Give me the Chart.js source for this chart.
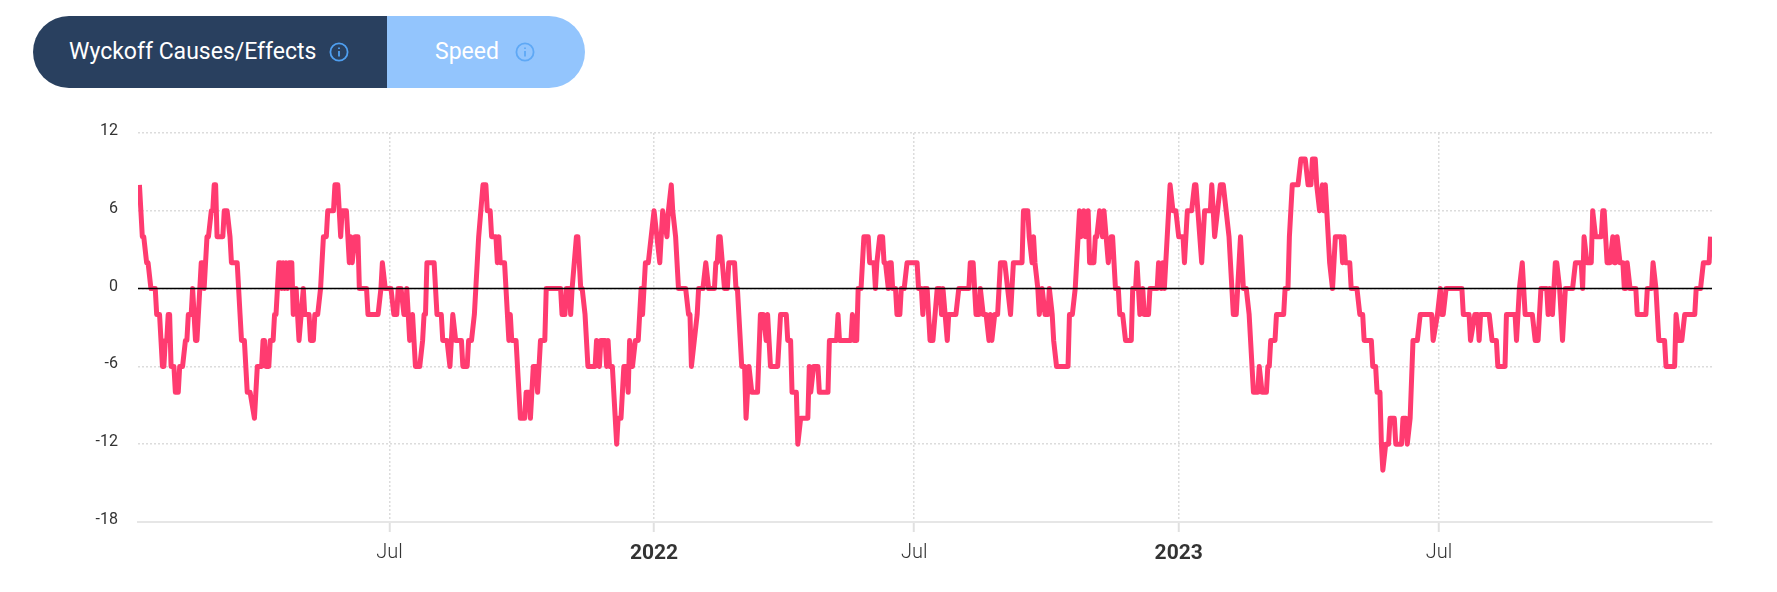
<!DOCTYPE html>
<html>
<head>
<meta charset="utf-8">
<title>Wyckoff Causes/Effects</title>
<script src="https://cdn.jsdelivr.net/npm/chart.js@4"></script>
<style>
  html, body { margin: 0; padding: 0; background: #fff; width: 1777px; height: 592px; overflow: hidden; }
  #myChart { position: absolute; left: 0; top: 0; }
  .tab {
    position: absolute; top: 16px; height: 72px; color: #fff;
    font: 400 23px Roboto, sans-serif; line-height: 72px;
  }
  #tab1 { left: 33px; width: 354px; background: #29405f; border-radius: 36px 0 0 36px; }
  #tab2 { left: 387px; width: 198px; background: #93c5fd; border-radius: 0 36px 36px 0; }
  .tab span { position: absolute; top: 0; white-space: nowrap; }
  .tab svg { position: absolute; top: 26px; }
</style>
</head>
<body>
<div class="tab" id="tab1">
  <span style="left:36px">Wyckoff Causes/Effects</span>
  <svg style="left:296px" width="20" height="20" viewBox="0 0 20 20" fill="none" stroke="#4f9ff0" stroke-width="1.8">
    <circle cx="10" cy="10" r="8.6"/><path d="M10 9v5.5M10 5.4v1.6"/>
  </svg>
</div>
<div class="tab" id="tab2">
  <span style="left:48px">Speed</span>
  <svg style="left:128px" width="20" height="20" viewBox="0 0 20 20" fill="none" stroke="#5ea8f5" stroke-width="1.8">
    <circle cx="10" cy="10" r="8.6"/><path d="M10 9v5.5M10 5.4v1.6"/>
  </svg>
</div>
<canvas id="myChart" width="1777" height="592"></canvas>
<script>
// days since 2021-01-01
const days = [
  7,9,10,12,13,15,18,19,21,23,24,25,26,27,28,29,31,32,34,35,
  37,39,40,41,43,44,46,47,49,50,51,52,54,55,57,58,59,60,61,65,
  66,68,70,71,75,77,78,80,82,84,87,89,92,93,94,95,97,98,100,101,
  102,103,104,105,106,107,108,109,110,111,113,114,116,118,121,122,125,126,128,129,
  131,133,134,135,137,138,142,143,145,147,148,151,153,154,155,157,159,160,165,166,
  173,175,176,178,182,184,186,187,189,191,192,193,195,197,199,202,204,205,206,207,
  212,214,217,218,221,223,225,227,231,232,235,236,238,240,241,243,246,248,249,251,
  252,255,256,257,258,261,263,264,265,266,269,272,275,276,278,279,281,283,284,286,
  289,290,300,301,303,304,306,307,308,311,312,314,315,317,319,324,325,327,328,331,
  332,333,334,336,339,340,342,344,346,347,348,350,352,354,356,357,359,361,363,365,
  367,369,371,374,375,377,378,380,382,387,389,390,391,393,395,396,399,401,403,407,
  408,409,410,411,414,416,417,421,422,423,426,428,429,431,433,437,439,441,443,444,
  446,451,453,457,458,460,461,464,465,467,472,473,474,476,479,480,486,487,492,493,
  494,502,503,504,506,507,509,510,511,514,515,518,519,520,522,524,525,526,528,529,
  530,531,533,534,536,537,539,541,548,549,551,552,553,555,557,559,562,564,565,566,
  569,570,575,577,584,585,587,589,591,592,594,596,598,599,600,602,604,606,609,611,
  613,615,621,622,625,626,628,629,630,632,633,635,637,639,640,642,643,645,653,654,
  656,658,659,661,662,664,665,667,668,671,672,673,675,677,678,681,683,684,686,688,
  689,691,693,697,698,700,701,703,705,706,709,710,715,716,718,719,720,722,724,726,
  728,730,733,734,736,739,741,742,746,748,752,753,755,759,761,765,767,768,770,773,
  775,777,779,782,785,786,788,791,792,793,794,797,798,803,804,806,807,809,813,815,
  818,820,822,823,825,826,828,830,831,832,834,835,837,839,843,844,845,846,849,850,
  854,856,858,859,864,865,867,868,870,871,872,874,876,877,880,881,885,886,888,889,
  891,893,896,898,906,907,910,912,913,914,916,927,928,932,933,936,938,939,940,946,
  948,951,952,957,958,964,965,966,967,969,971,976,978,980,982,986,987,988,990,992,
  993,995,997,999,1004,1006,1010,1011,1012,1014,1017,1018,1020,1024,1025,1026,1028,1030,1032,1033,
  1034,1035,1037,1039,1040,1041,1042,1044,1048,1049,1055,1056,1059,1060,1062,1064,1068,1069,1075,1076,
  1078,1080,1082,1089,1090,1093,1095,1099,1100,
];
const values = [
  8,4,4,2,2,0,0,-2,-2,-6,-6,-4,-4,-2,-2,-6,-6,-8,-8,-6,
  -6,-4,-4,-2,-2,0,-4,-4,0,2,2,0,4,4,6,6,8,8,4,4,
  6,6,4,2,2,-2,-4,-4,-8,-8,-10,-6,-6,-4,-4,-6,-6,-4,-4,-2,
  -2,0,2,2,0,2,0,2,0,2,2,-2,0,-4,0,-2,-2,-4,-4,-2,
  -2,0,2,4,4,6,6,8,8,4,6,6,2,4,2,4,4,0,0,-2,
  -2,0,2,0,0,-2,-2,0,0,-2,-2,0,-4,-2,-6,-6,-4,-2,-2,2,
  2,-2,-2,-4,-4,-6,-2,-4,-4,-6,-6,-4,-4,-2,0,4,8,8,6,6,
  4,4,2,4,2,2,-2,-4,-2,-4,-4,-10,-10,-8,-8,-10,-6,-6,-8,-4,
  -4,0,0,-2,-2,0,0,-2,0,4,4,0,0,-2,-6,-6,-4,-6,-4,-4,
  -6,-4,-6,-6,-12,-10,-10,-6,-6,-8,-4,-6,-4,-4,0,-2,2,2,4,6,
  4,2,6,4,6,8,6,4,0,0,-2,-2,-6,-4,-2,0,0,2,0,0,
  2,2,4,4,0,0,2,2,0,0,-6,-6,-10,-6,-8,-8,-2,-2,-4,-2,
  -6,-6,-2,-2,-4,-4,-8,-8,-12,-10,-10,-6,-8,-6,-6,-8,-8,-4,-4,-2,
  -4,-4,-2,-4,-4,0,0,2,4,4,2,2,0,2,4,4,2,2,0,2,
  2,0,0,-2,-2,0,0,2,2,0,0,-2,0,0,-4,-4,0,0,-2,0,
  -4,-2,-2,0,0,2,2,-2,-2,0,-2,-2,-4,-2,-4,-2,-2,2,2,0,
  -2,2,2,6,6,4,2,4,2,0,-2,0,-2,-2,0,-2,-4,-6,-6,-2,
  -2,0,2,6,4,6,4,6,2,2,4,4,6,4,6,2,4,4,0,0,
  -2,-2,-4,-4,0,0,2,-2,0,-2,-2,0,0,2,0,2,0,4,8,6,
  6,4,4,2,6,6,8,8,2,6,6,8,4,8,8,4,0,-2,-2,4,
  0,0,-2,-8,-8,-6,-8,-8,-6,-6,-4,-4,-2,-2,0,0,4,8,8,10,
  10,8,8,10,10,8,6,8,6,8,4,2,0,4,4,2,4,2,2,0,
  0,-2,-2,-4,-4,-6,-6,-8,-8,-12,-14,-12,-12,-10,-10,-12,-12,-10,-10,-12,
  -10,-4,-4,-2,-2,-4,-2,0,-2,-2,0,0,-2,-2,-4,-2,-2,-4,-2,-2,
  -4,-4,-6,-6,-2,-2,-4,-2,0,2,-2,-2,-4,-4,0,0,-2,0,-2,2,
  2,0,-4,0,0,2,2,0,4,2,2,6,4,4,6,6,2,2,4,2,
  2,4,2,2,0,0,2,0,0,-2,-2,0,0,2,0,-4,-4,-6,-6,-2,
  -4,-4,-2,-2,0,0,2,2,4,
];
const tickDays = [181, 365, 546, 730, 911];
const tickLabels = ["Jul", "2022", "Jul", "2023", "Jul"];
const boldLabels = ["2022", "2023"];
const xMin = 6;
const xMax = 1101;

const ctx = document.getElementById("myChart").getContext("2d");

const myChart = new Chart(ctx, {
  type: "line",
  data: {
    datasets: [
      {
        data: [{ x: xMin, y: 0 }, { x: xMax, y: 0 }],
        borderColor: "#000",
        borderWidth: 1.5,
        pointRadius: 0,
        order: 0,
      },
      {
        data: days.map((d, i) => ({ x: d, y: values[i] })),
        borderColor: "#ff3b70",
        borderWidth: 5,
        borderJoinStyle: "round",
        pointRadius: 0,
        tension: 0,
        order: 1,
      },
    ],
  },
  options: {
    responsive: false,
    animation: false,
    layout: { padding: { top: 133, right: 65 } },
    plugins: { legend: { display: false }, tooltip: { enabled: false } },
    scales: {
      x: {
        type: "linear",
        min: xMin,
        max: xMax,
        afterFit: (scale) => { scale.height = 70; },
        afterBuildTicks: (scale) => { scale.ticks = tickDays.map((value) => ({ value })); },
        border: { color: "#e6e6e6", width: 2, dash: [2, 2] },
        grid: { color: "#dcdcdc", lineWidth: 1.5, tickColor: "#e0e0e0", tickWidth: 2, tickLength: 10, tickBorderDash: [] },
        ticks: {
          autoSkip: false,
          maxRotation: 0,
          padding: 9,
          color: "#333",
          font: (c) => ({
            family: "Roboto, sans-serif",
            size: boldLabels.includes(c.tick && c.tick.label) ? 21 : 20,
            weight: boldLabels.includes(c.tick && c.tick.label) ? "bold" : 300,
          }),
          callback: (value) => tickLabels[tickDays.indexOf(value)],
        },
      },
      y: {
        min: -18,
        max: 12,
        afterFit: (scale) => { scale.width = 138; },
        border: { display: false, dash: [2, 2] },
        grid: { color: "#dcdcdc", lineWidth: 1.5, drawTicks: false },
        ticks: {
          stepSize: 6,
          padding: 20,
          labelOffset: -2,
          color: "#333",
          font: { family: "Roboto, sans-serif", size: 16 },
        },
      },
    },
  },
});
</script>
</body>
</html>
